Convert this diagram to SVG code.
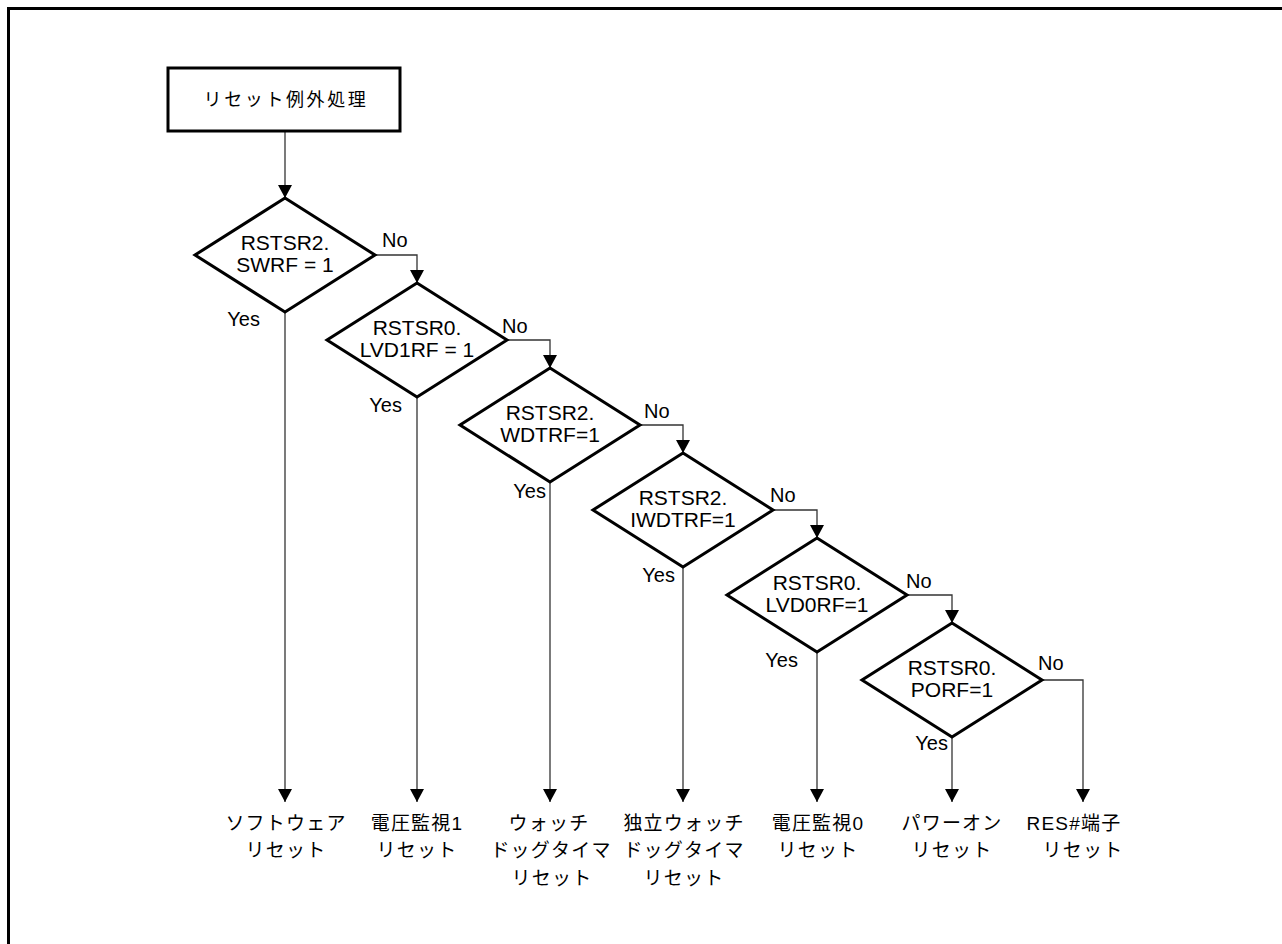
<svg xmlns="http://www.w3.org/2000/svg" width="1282" height="944" viewBox="0 0 1282 944">
<style>
.frame{fill:none;stroke:#000;stroke-width:3}
.box{fill:#fff;stroke:#000;stroke-width:3}
.dia{fill:#fff;stroke:#000;stroke-width:3;stroke-linejoin:miter}
.con{fill:none;stroke:#333;stroke-width:1.3}
.t{font-family:"Liberation Sans","Noto Sans CJK JP",sans-serif;fill:#000}
.dt{font-size:21px;text-anchor:middle}
.yn{font-size:20px}
.lbl{font-size:19px;letter-spacing:1.2px;text-anchor:middle}
.title{font-size:18px;letter-spacing:2.6px;text-anchor:middle}
</style>
<defs>
<marker id="arr" markerWidth="14" markerHeight="14" refX="13" refY="7" orient="auto" markerUnits="userSpaceOnUse">
<path d="M0,0 L13,7 L0,14 Z" fill="#000"/>
</marker>
</defs>
<rect width="1282" height="944" fill="#fff"/>
<path class="frame" d="M8.5,950 V8.5 H1290"/>

<g id="connectors">
<path class="con" d="M285,131 V198" marker-end="url(#arr)"/>
<path class="con" d="M375,255 H417 V283" marker-end="url(#arr)"/>
<path class="con" d="M507,340 H550 V368" marker-end="url(#arr)"/>
<path class="con" d="M640,425 H683 V453" marker-end="url(#arr)"/>
<path class="con" d="M773,510 H817 V538" marker-end="url(#arr)"/>
<path class="con" d="M907,595 H952 V623" marker-end="url(#arr)"/>
<path class="con" d="M1042,680 H1083 V802" marker-end="url(#arr)"/>
<path class="con" d="M285,312 V802" marker-end="url(#arr)"/>
<path class="con" d="M417,397 V802" marker-end="url(#arr)"/>
<path class="con" d="M550,482 V802" marker-end="url(#arr)"/>
<path class="con" d="M683,567 V802" marker-end="url(#arr)"/>
<path class="con" d="M817,652 V802" marker-end="url(#arr)"/>
<path class="con" d="M952,737 V802" marker-end="url(#arr)"/>
<text class="t yn" x="382" y="247">No</text>
<text class="t yn" x="502" y="333">No</text>
<text class="t yn" x="644" y="418">No</text>
<text class="t yn" x="770" y="502">No</text>
<text class="t yn" x="906" y="588">No</text>
<text class="t yn" x="1038" y="670">No</text>
<text class="t yn" x="260" y="326" text-anchor="end">Yes</text>
<text class="t yn" x="402" y="412" text-anchor="end">Yes</text>
<text class="t yn" x="546" y="498" text-anchor="end">Yes</text>
<text class="t yn" x="675" y="582" text-anchor="end">Yes</text>
<text class="t yn" x="798" y="667" text-anchor="end">Yes</text>
<text class="t yn" x="948" y="750" text-anchor="end">Yes</text>
</g>

<g id="start">
<rect class="box" x="168" y="68" width="232" height="63"/>
<text class="t title" x="286" y="106">リセット例外処理</text>
</g>

<g id="d1">
<path class="dia" d="M285,198 L375,255 L285,312 L195,255 Z"/>
<text class="t dt" x="285" y="250">RSTSR2.</text>
<text class="t dt" x="285" y="272">SWRF = 1</text>
</g>
<g id="d2">
<path class="dia" d="M417,283 L507,340 L417,397 L327,340 Z"/>
<text class="t dt" x="417" y="335">RSTSR0.</text>
<text class="t dt" x="417" y="357">LVD1RF = 1</text>
</g>
<g id="d3">
<path class="dia" d="M550,368 L640,425 L550,482 L460,425 Z"/>
<text class="t dt" x="550" y="420">RSTSR2.</text>
<text class="t dt" x="550" y="442">WDTRF=1</text>
</g>
<g id="d4">
<path class="dia" d="M683,453 L773,510 L683,567 L593,510 Z"/>
<text class="t dt" x="683" y="505">RSTSR2.</text>
<text class="t dt" x="683" y="527">IWDTRF=1</text>
</g>
<g id="d5">
<path class="dia" d="M817,538 L907,595 L817,652 L727,595 Z"/>
<text class="t dt" x="817" y="590">RSTSR0.</text>
<text class="t dt" x="817" y="612">LVD0RF=1</text>
</g>
<g id="d6">
<path class="dia" d="M952,623 L1042,680 L952,737 L862,680 Z"/>
<text class="t dt" x="952" y="675">RSTSR0.</text>
<text class="t dt" x="952" y="697">PORF=1</text>
</g>

<g id="r1"><text class="t lbl" x="286" y="830">ソフトウェア</text><text class="t lbl" x="286" y="857">リセット</text></g>
<g id="r2"><text class="t lbl" x="417" y="830">電圧監視1</text><text class="t lbl" x="417" y="857">リセット</text></g>
<g id="r3"><text class="t lbl" x="549" y="830">ウォッチ</text><text class="t lbl" x="551" y="857">ドッグタイマ</text><text class="t lbl" x="552" y="885">リセット</text></g>
<g id="r4"><text class="t lbl" x="684" y="830">独立ウォッチ</text><text class="t lbl" x="684" y="857">ドッグタイマ</text><text class="t lbl" x="684" y="885">リセット</text></g>
<g id="r5"><text class="t lbl" x="818" y="830">電圧監視0</text><text class="t lbl" x="818" y="857">リセット</text></g>
<g id="r6"><text class="t lbl" x="952" y="830">パワーオン</text><text class="t lbl" x="952" y="857">リセット</text></g>
<g id="r7"><text class="t lbl" x="1074" y="830">RES#端子</text><text class="t lbl" x="1083" y="857">リセット</text></g>
</svg>
